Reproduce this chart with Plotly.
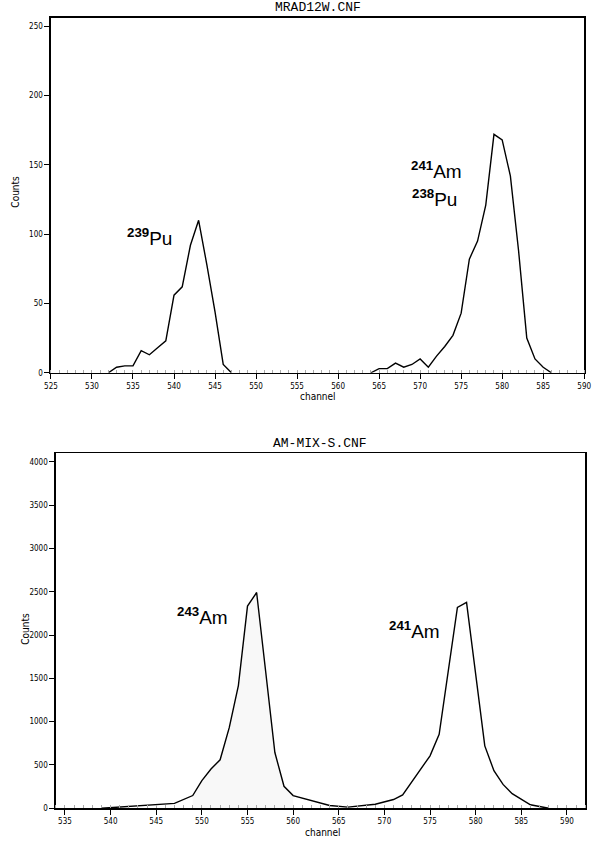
import plotly.graph_objects as go

# ---- Data: top spectrum (MRAD12W.CNF) ----
top_channels = [532, 533, 534, 535, 536, 537, 538, 539, 540, 541, 542, 543, 544, 545, 546, 547,
                564, 565, 566, 567, 568, 569, 570, 571, 572, 573, 574, 575, 576, 577, 578, 579,
                580, 581, 582, 583, 584, 585, 586]
top_counts = [0, 4, 5, 5, 16, 13, 18, 23, 56, 62, 92, 110, 78, 44, 6, 0,
              0, 3, 3, 7, 4, 6, 10, 4, 12, 19, 27, 43, 82, 95, 121, 172,
              168, 142, 88, 25, 10, 4, 0]
top_break_after = 547  # gap between the two peaks (no data plotted)

# ---- Data: bottom spectrum (AM-MIX-S.CNF) ----
bot_channels = [539, 547, 549, 550, 551, 552, 553, 554, 555, 556, 557, 558, 559, 560,
                564, 566, 569, 571, 572, 575, 576, 578, 579, 581, 582, 583, 584, 586, 588]
bot_counts = [0, 55, 146, 318, 452, 559, 930, 1417, 2335, 2492, 1570, 643, 253, 146,
              31, 12, 45, 100, 154, 605, 854, 2319, 2377, 720, 433, 275, 168, 39, 0]
roi_start, roi_end = 549, 560  # shaded region under 243Am peak

top_title = "MRAD12W.CNF"
bot_title = "AM-MIX-S.CNF"
x_title = "channel"
y_title = "Counts"

W, H = 600, 845


def px2paper_x(px):
    return px / W


def px2paper_y(py):
    return 1 - py / H


seg1_x = [c for c in top_channels if c <= top_break_after]
seg1_y = top_counts[:len(seg1_x)]
seg2_x = top_channels[len(seg1_x):]
seg2_y = top_counts[len(seg1_x):]

roi_x = [c for c in bot_channels if roi_start <= c <= roi_end]
roi_y = [v for c, v in zip(bot_channels, bot_counts) if roi_start <= c <= roi_end]

line = dict(color="black", width=1.4)

fig = go.Figure()
fig.add_trace(go.Scatter(x=seg1_x, y=seg1_y, mode="lines", line=line, xaxis="x", yaxis="y"))
fig.add_trace(go.Scatter(x=seg2_x, y=seg2_y, mode="lines", line=line, xaxis="x", yaxis="y"))
fig.add_trace(go.Scatter(x=roi_x, y=roi_y, mode="lines", line=dict(width=0),
                         fill="tozeroy", fillcolor="rgba(120,120,120,0.05)",
                         xaxis="x2", yaxis="y2"))
fig.add_trace(go.Scatter(x=bot_channels, y=bot_counts, mode="lines", line=line,
                         xaxis="x2", yaxis="y2"))

tickfont = dict(family="DejaVu Sans Condensed, DejaVu Sans", size=8, color="black")
common_x = dict(showline=True, linecolor="black", linewidth=1.5, mirror=True,
                ticks="outside", ticklen=5, tickwidth=1, tickcolor="black",
                showgrid=False, zeroline=False, tickfont=tickfont,
                minor=dict(ticks="inside", ticklen=3, tickcolor="#aaaaaa", dtick=1, showgrid=False))
common_y = dict(showline=True, linecolor="black", linewidth=1.5, mirror=True,
                ticks="outside", ticklen=5, tickwidth=1, tickcolor="black",
                showgrid=False, zeroline=False, tickfont=tickfont)

fig.update_layout(
    width=W, height=H,
    margin=dict(l=0, r=0, t=0, b=0),
    paper_bgcolor="white", plot_bgcolor="white",
    showlegend=False,
    xaxis=dict(common_x, range=[525, 590], dtick=5, tick0=525,
               domain=[px2paper_x(45), px2paper_x(591)], anchor="y"),
    yaxis=dict(common_y, range=[0, 256], dtick=50, tick0=0,
               domain=[px2paper_y(375), px2paper_y(18)], anchor="x"),
    xaxis2=dict(common_x, range=[534, 592], dtick=5, tick0=535,
                domain=[px2paper_x(50), px2paper_x(592)], anchor="y2"),
    yaxis2=dict(common_y, range=[0, 4100], dtick=500, tick0=0,
                domain=[px2paper_y(813), px2paper_y(456)], anchor="x2"),
)

mono = dict(family="Liberation Mono, Courier New, monospace", size=13, color="black")
sans_small = dict(family="DejaVu Sans Condensed, DejaVu Sans", size=10, color="black")
label_font = dict(family="Liberation Sans, Arial", size=19, color="black")

ann = []
ann.append(dict(text=top_title, x=px2paper_x(318), y=px2paper_y(8), font=mono))
ann.append(dict(text=bot_title, x=px2paper_x(320), y=px2paper_y(446), font=mono))
ann.append(dict(text=y_title, x=px2paper_x(9), y=px2paper_y(193), textangle=-90, font=sans_small))
ann.append(dict(text=y_title, x=px2paper_x(19), y=px2paper_y(633), textangle=-90, font=sans_small))
ann.append(dict(text=x_title, x=px2paper_x(318), y=px2paper_y(399), font=sans_small))
ann.append(dict(text=x_title, x=px2paper_x(324), y=px2paper_y(837), font=sans_small))
ann.append(dict(text="<sup><b>239</b></sup>Pu", x=px2paper_x(146), y=px2paper_y(238), font=label_font))
ann.append(dict(text="<sup><b>241</b></sup>Am", x=px2paper_x(440), y=px2paper_y(171), font=label_font))
ann.append(dict(text="<sup><b>238</b></sup>Pu", x=px2paper_x(438), y=px2paper_y(199), font=label_font))
ann.append(dict(text="<sup><b>243</b></sup>Am", x=px2paper_x(200), y=px2paper_y(620), font=label_font))
ann.append(dict(text="<sup><b>241</b></sup>Am", x=px2paper_x(417), y=px2paper_y(634), font=label_font))

for a in ann:
    a.update(xref="paper", yref="paper", showarrow=False, xanchor="center", yanchor="middle")
fig.update_layout(annotations=ann)

fig.write_html("out.html",
               config={"displayModeBar": False, "staticPlot": True},
               post_script="document.body.style.margin='0';document.body.style.overflow='hidden';")
